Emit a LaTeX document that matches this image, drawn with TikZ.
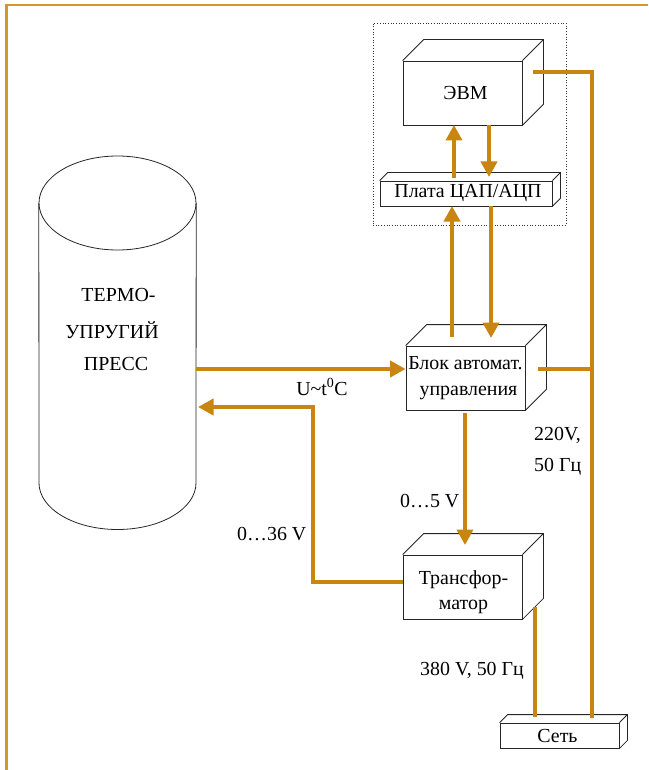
\documentclass[tikz,border=0pt]{standalone}
\usepackage{fontspec}
\setmainfont{Liberation Serif}
\usetikzlibrary{arrows.meta}
\definecolor{wire}{RGB}{200,134,16}
\definecolor{framec}{RGB}{216,150,36}
\tikzset{
  x=1pt,y=-1pt,
  lbl/.style={inner sep=0pt,font=\fontsize{19.9}{22}\selectfont},
  face/.style={draw=black!85,line width=0.8pt,inner sep=0pt,align=center,font=\fontsize{19.9}{25.5}\selectfont},
  edgeline/.style={draw=black!85,line width=0.8pt,line join=miter},
  wireline/.style={draw=wire,line width=4pt},
  wirearrow/.style={wireline,-{Triangle[length=15.5pt,width=16pt,fill=wire]}},
}
\newcommand{\cuboid}[7]{%
  \pgfmathsetmacro{\cw}{#4-#2}\pgfmathsetmacro{\ch}{#5-#3}%
  \pgfmathsetmacro{\cx}{(#2+#4)/2}\pgfmathsetmacro{\cy}{(#3+#5)/2}%
  \node[face,minimum width=\cw pt,minimum height=\ch pt] (#1) at (\cx,\cy) {#7};
  \draw[edgeline] (#1.north west) -- ++(#6,-#6) -- ([shift={(#6,-#6)}]#1.north east) -- ([shift={(#6,-#6)}]#1.south east) -- (#1.south east)
    (#1.north east) -- ([shift={(#6,-#6)}]#1.north east);
}
\begin{document}
\begin{tikzpicture}
\useasboundingbox (0,0) rectangle (648,770);
% frame
\draw[framec,line width=2.2pt] (6.5,770) -- (6.5,5) -- (648,5);
% cylinder
\node[draw=none,minimum width=157pt,minimum height=0pt,inner sep=0pt] (press) at (117.5,203) {};
\draw[edgeline] (press.west) -- (39,483) arc[start angle=180,end angle=360,x radius=78.5,y radius=-46.5] -- (press.east);
\draw[edgeline] (117.5,203) ellipse[x radius=78.5,y radius=47];
\node[lbl] (t1) at (118.5,295) {ТЕРМО-};
\node[lbl] (t2) at (112,330) {УПРУГИЙ};
\node[lbl] (t3) at (116,364) {ПРЕСС};
% dotted board enclosure
\node[draw=black!80,dotted,line width=0.7pt,minimum width=193pt,minimum height=202pt,inner sep=0pt] (encl) at (469.5,124) {};
% boxes
\cuboid{evm}{403}{61}{522}{125}{21}{\hspace*{6pt}ЭВМ}
\cuboid{dac}{380}{181}{552}{206}{8}{\hspace*{4pt}Плата ЦАП/АЦП}
\cuboid{auto}{406}{346}{525}{410}{21}{Блок автомат.\\\hspace*{6pt}управления}
\cuboid{trans}{403}{555}{522}{619}{21}{\rule{0pt}{24pt}\hspace*{2pt}Трансфор-\\\hspace*{2pt}матор}
\cuboid{net}{500}{723}{619}{748}{8}{Сеть\hspace*{4pt}}
% free-end coordinates
\coordinate (evmout) at (533,72);
\coordinate (bus) at (592,72);
\coordinate (busend) at (592,718);
\coordinate (autoout) at (538,369);
\coordinate (transout) at (535,607);
\coordinate (transend) at (535,717);
% connectors
\draw[wireline,line join=miter] (evmout) -- (bus) -- (busend);
\draw[wireline] (autoout) -- (autoout -| bus);
\draw[wireline] (transout) -- (transend);
\draw[wirearrow] (454,178) -- (454,125);
\draw[wirearrow] (489,125) -- (489,177);
\draw[wirearrow] (452,337) -- (452,206);
\draw[wirearrow] (491,206) -- (491,338);
\draw[wirearrow] (press.east |- autoout) -- (auto.west |- autoout);
\draw[wirearrow] (465,413) -- (465,545);
\draw[wirearrow,line join=miter] (trans.west |- 0,582) -- (313,582) -- (313,407) -- (198,407);
% labels
\node[lbl] (l1) at (322,387) {U\textasciitilde t\textsuperscript{0}C};
\node[lbl,anchor=west] (l2) at (534,435) {220V,};
\node[lbl,anchor=west] (l3) at (534,467) {50 Гц};
\node[lbl,anchor=west] (l4) at (400,501) {0…5 V};
\node[lbl,anchor=west] (l5) at (237,534) {0…36 V};
\node[lbl,anchor=west] (l6) at (420,671) {380 V, 50 Гц};
\end{tikzpicture}
\end{document}
